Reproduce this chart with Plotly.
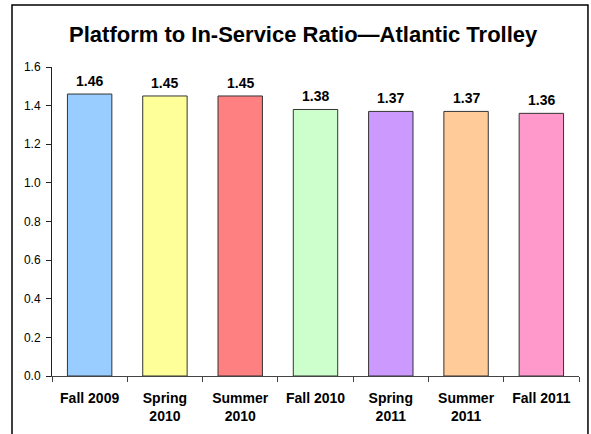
import plotly.graph_objects as go

categories = ["Fall 2009", "Spring<br>2010", "Summer<br>2010", "Fall 2010",
              "Spring<br>2011", "Summer<br>2011", "Fall 2011"]
values = [1.46, 1.45, 1.45, 1.38, 1.37, 1.37, 1.36]
colors = ["#99CCFF", "#FFFF99", "#FF8080", "#CCFFCC", "#CC99FF", "#FFCC99", "#FF99CC"]
y_ticks = [0.0, 0.2, 0.4, 0.6, 0.8, 1.0, 1.2, 1.4, 1.6]

FONT = "Arial, Liberation Sans, sans-serif"

fig = go.Figure()
fig.add_trace(go.Bar(
    x=categories, y=values,
    marker=dict(color=colors, line=dict(color="#333333", width=1)),
    width=0.59, showlegend=False, hoverinfo="x+y",
))

for c, v in zip(categories, values):
    fig.add_annotation(x=c, y=v, text="<b>%.2f</b>" % v, showarrow=False,
                       yanchor="bottom", yshift=3,
                       font=dict(family=FONT, size=14, color="black"))

fig.update_layout(
    width=591, height=434,
    margin=dict(l=52, r=12, t=67, b=58, autoexpand=False),
    paper_bgcolor="white", plot_bgcolor="white",
    font=dict(family=FONT, color="black"),
    title=dict(text="<b>Platform to In-Service Ratio\u2014Atlantic Trolley</b>",
               x=0.513, xanchor="center", y=0.92, yanchor="middle",
               font=dict(family=FONT, size=22, color="black")),
    xaxis=dict(type="category", tickson="boundaries", ticks="outside", ticklen=5,
               tickcolor="#444444", showline=True, linecolor="#444444", linewidth=1,
               tickfont=dict(family=FONT, size=14, color="black"),
               tickvals=categories,
               ticktext=["<b>%s</b>" % c for c in categories],
               ticklabelstandoff=9,
               showgrid=False, automargin=False),
    yaxis=dict(range=[0, 1.6], tickvals=y_ticks, tickformat=".1f", ticks="outside",
               ticklen=5, tickcolor="#222222", showline=True, linecolor="#222222",
               linewidth=1, showgrid=False, zeroline=False, automargin=False,
               ticklabelstandoff=3,
               tickfont=dict(family=FONT, size=12, color="black")),
    shapes=[dict(type="rect", xref="paper", yref="paper",
                 x0=-0.0759, x1=1.017, y0=-0.21, y1=1.2006,
                 line=dict(color="black", width=1.5), fillcolor="rgba(0,0,0,0)",
                 layer="below")],
)

fig.write_html("out.html", config={"displayModeBar": False},
               post_script="document.body.style.margin='0';document.body.style.overflow='hidden';")
